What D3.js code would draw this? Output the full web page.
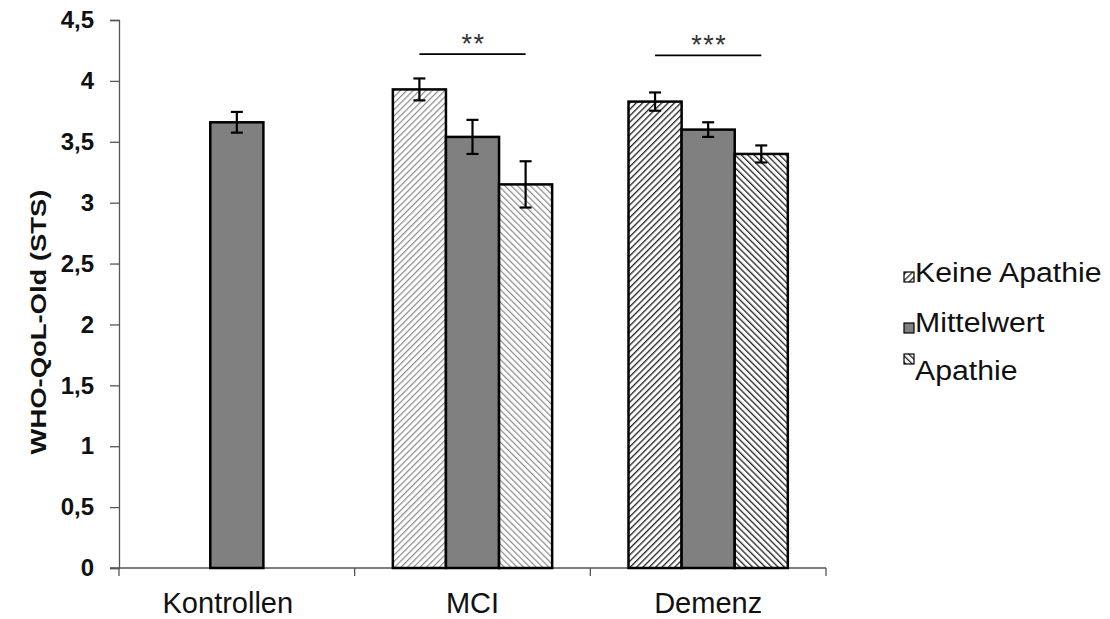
<!DOCTYPE html>
<html>
<head>
<meta charset="utf-8">
<script src="https://cdn.jsdelivr.net/npm/d3@7"></script>
<style>
  body { margin: 0; background: #fff; }
  svg { font-family: Arial, "Liberation Sans", sans-serif; }
</style>
</head>
<body>
<div id="chart"></div>
<script>
const categories = ["Kontrollen", "MCI", "Demenz"];
const series = ["Keine Apathie", "Mittelwert", "Apathie"];
// mean values per category, in series order (null = no bar)
const kontrollenValues = [null, 3.66, null];
const mciValues = [3.93, 3.54, 3.15];
const demenzValues = [3.83, 3.60, 3.40];
// standard errors
const kontrollenErrors = [null, 0.085, null];
const mciErrors = [0.09, 0.14, 0.19];
const demenzErrors = [0.075, 0.06, 0.07];
const yTicks = [0, 0.5, 1, 1.5, 2, 2.5, 3, 3.5, 4, 4.5];
const significance = [
  { category: "MCI", label: "**", level: 4.22 },
  { category: "Demenz", label: "***", level: 4.21 }
];

const valuesByCat = { Kontrollen: kontrollenValues, MCI: mciValues, Demenz: demenzValues };
const errorsByCat = { Kontrollen: kontrollenErrors, MCI: mciErrors, Demenz: demenzErrors };

const width = 1110, height = 619;
const plot = { left: 119, right: 826, top: 20, bottom: 568 };

const svg = d3.select("#chart").append("svg")
  .attr("width", width)
  .attr("height", height);

// hatch patterns
const defs = svg.append("defs");
function hatch(id, dir, color, sw) {
  const p = defs.append("pattern")
    .attr("id", id)
    .attr("patternUnits", "userSpaceOnUse")
    .attr("width", 4.5).attr("height", 4.5)
    .attr("patternTransform", `rotate(${dir})`);
  p.append("rect").attr("width", 4.5).attr("height", 4.5).attr("fill", "#fff");
  p.append("line").attr("x1", 0).attr("y1", 0).attr("x2", 0).attr("y2", 4.5)
    .attr("stroke", color).attr("stroke-width", sw);
}
hatch("keineLight", 45, "#8a8a8a", 2.4);
hatch("keineDark", 45, "#222", 2.6);
hatch("apathieLight", -45, "#8a8a8a", 2.4);
hatch("apathieDark", -45, "#222", 2.6);

function fillFor(cat, s) {
  if (s === "Mittelwert") return "#808080";
  const light = cat === "MCI";
  if (s === "Keine Apathie") return light ? "url(#keineLight)" : "url(#keineDark)";
  return light ? "url(#apathieLight)" : "url(#apathieDark)";
}

const x = d3.scaleBand().domain(categories).range([plot.left, plot.right]).padding(0);
const bw = x.bandwidth();
const x1 = d3.scaleBand().domain(series).range([bw * 0.162, bw * 0.838]).padding(0);
const y = d3.scaleLinear().domain([0, 4.5]).range([plot.bottom, plot.top]);

// y axis
const yAxis = svg.append("g")
  .attr("transform", `translate(${plot.left},0)`)
  .call(d3.axisLeft(y).tickValues(yTicks).tickSize(9).tickPadding(16)
    .tickFormat(d => String(d).replace(".", ",")));
yAxis.select(".domain").attr("stroke", "#555").attr("stroke-width", 1.3);
yAxis.selectAll(".tick line").attr("stroke", "#555").attr("stroke-width", 1.3);
yAxis.selectAll(".tick text")
  .attr("fill", "#111")
  .style("font-size", "24px")
  .style("font-weight", "bold")
  .style("font-family", "Arial, 'Liberation Sans', sans-serif");

// x axis with ticks at category boundaries
const xg = svg.append("g");
xg.append("line")
  .attr("x1", plot.left - 9).attr("x2", plot.right)
  .attr("y1", plot.bottom).attr("y2", plot.bottom)
  .attr("stroke", "#555").attr("stroke-width", 1.3);
const bounds = categories.map(c => x(c)).concat([x(categories[categories.length - 1]) + bw]);
xg.selectAll("line.tick").data(bounds).join("line")
  .attr("class", "tick")
  .attr("x1", d => d).attr("x2", d => d)
  .attr("y1", plot.bottom).attr("y2", plot.bottom + 8)
  .attr("stroke", "#555").attr("stroke-width", 1.3);
xg.selectAll("text").data(categories).join("text")
  .attr("x", d => x(d) + bw / 2 - (d === "Kontrollen" ? 9 : 0))
  .attr("y", 613)
  .attr("text-anchor", "middle")
  .attr("fill", "#111")
  .style("font-size", "29px")
  .text(d => d);

// y axis title
svg.append("text")
  .attr("transform", `translate(46,322) rotate(-90)`)
  .attr("text-anchor", "middle")
  .attr("fill", "#111")
  .attr("textLength", 265)
  .attr("lengthAdjust", "spacingAndGlyphs")
  .style("font-size", "22px")
  .style("font-weight", "bold")
  .text("WHO-QoL-Old (STS)");

// bars
const barData = [];
categories.forEach(c => {
  series.forEach((s, i) => {
    const v = valuesByCat[c][i];
    if (v != null) barData.push({ cat: c, s, v, e: errorsByCat[c][i] });
  });
});

const bars = svg.append("g");
bars.selectAll("rect").data(barData).join("rect")
  .attr("x", d => x(d.cat) + x1(d.s))
  .attr("y", d => y(d.v))
  .attr("width", x1.bandwidth())
  .attr("height", d => y(0) - y(d.v))
  .attr("fill", d => fillFor(d.cat, d.s))
  .attr("stroke", "#000")
  .attr("stroke-width", 2.5);

// error bars
const eb = svg.append("g").attr("stroke", "#000").attr("stroke-width", 2.2);
const cx = d => x(d.cat) + x1(d.s) + x1.bandwidth() / 2;
eb.selectAll("line.v").data(barData).join("line")
  .attr("class", "v")
  .attr("x1", cx).attr("x2", cx)
  .attr("y1", d => y(d.v + d.e)).attr("y2", d => y(d.v - d.e));
eb.selectAll("line.t").data(barData).join("line")
  .attr("class", "t")
  .attr("x1", d => cx(d) - 6).attr("x2", d => cx(d) + 6)
  .attr("y1", d => y(d.v + d.e)).attr("y2", d => y(d.v + d.e));
eb.selectAll("line.b").data(barData).join("line")
  .attr("class", "b")
  .attr("x1", d => cx(d) - 6).attr("x2", d => cx(d) + 6)
  .attr("y1", d => y(d.v - d.e)).attr("y2", d => y(d.v - d.e));

// significance markers
const sig = svg.append("g");
significance.forEach(d => {
  const a = x(d.category) + x1(series[0]) + x1.bandwidth() / 2;
  const b = x(d.category) + x1(series[2]) + x1.bandwidth() / 2;
  sig.append("line")
    .attr("x1", a).attr("x2", b)
    .attr("y1", y(d.level)).attr("y2", y(d.level))
    .attr("stroke", "#000").attr("stroke-width", 1.8);
  sig.append("text")
    .attr("x", (a + b) / 2 + 1)
    .attr("y", y(d.level) - 1)
    .attr("text-anchor", "middle")
    .attr("fill", "#333")
    .style("font-size", "27px")
    .style("letter-spacing", "1.5px")
    .text(d.label);
});

// legend
const legend = svg.append("g");
const legendBase = [282, 332, 380];
const legendBox = [272, 323, 354];
series.forEach((s, i) => {
  legend.append("rect")
    .attr("x", 904).attr("y", legendBox[i])
    .attr("width", 10).attr("height", 10)
    .attr("fill", s === "Mittelwert" ? "#808080" : fillFor("Demenz", s))
    .attr("stroke", "#000").attr("stroke-width", 1.2);
  legend.append("text")
    .attr("transform", `translate(915,${legendBase[i]}) scale(1.12,1)`)
    .attr("fill", "#111")
    .style("font-size", "27px")
    .text(s);
});
</script>
</body>
</html>
